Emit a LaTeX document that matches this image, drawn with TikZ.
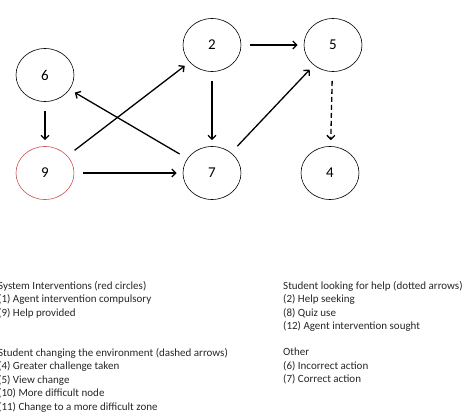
\documentclass[tikz,border=0pt]{standalone}
\usepackage{fontspec}
\setmainfont{Carlito}
\usepackage{tikz}
\usetikzlibrary{arrows.meta, shapes.geometric}
\definecolor{softred}{RGB}{205,80,80}

\begin{document}
\begin{tikzpicture}[x=1pt, y=1pt, node distance={120pt},
    main/.style = {draw, ellipse, minimum width=58pt, minimum height=53pt, line width=0.6pt, font=\fontsize{15}{18}\selectfont},
    link/.style = {-{Straight Barb[length=4pt,width=8pt]}, line width=1.3pt, shorten <=9pt, shorten >=6pt},
    legend/.style = {anchor=north west, align=left, inner sep=0pt, text=black!85, font=\fontsize{11}{13.5}\selectfont}]
    \useasboundingbox (0,0) rectangle (472,-420);

    \node[main, draw=softred] (N9) at (45,-173) {9};
    \node[main] (N6) [above of=N9, node distance=98pt] {6};
    \node[main] (N7) [right of=N9, node distance=167pt] {7};
    \node[main] (N2) [above of=N7, node distance=128pt] {2};
    \node[main] (N5) [right of=N2, node distance=121pt] {5};
    \node[main] (N4) [right of=N7, node distance=118pt] {4};

    \path[link] (N6) edge (N9);
    \path[link] (N9) edge (N7);
    \path[link] (N9) edge (N2);
    \path[link] (N7) edge (N6);
    \path[link] (N2) edge (N5);
    \path[link] (N2) edge (N7);
    \path[link] (N7) edge (N5);
    \path[link, dash pattern=on 5pt off 3pt] (N5) edge (N4);

    % legend
    \node[legend] (sysint) at (-2,-281) {System Interventions (red circles)\\(1) Agent intervention compulsory\\(9) Help provided};
    \node[legend] (envchange) at (-2,-348) {Student changing the environment (dashed arrows)\\(4) Greater challenge taken\\(5) View change\\(10) More difficult node\\(11) Change to a more difficult zone};
    \node[legend] (helpseek) at (283,-281) {Student looking for help (dotted arrows)\\(2) Help seeking\\(8) Quiz use\\(12) Agent intervention sought};
    \node[legend] (other) at (283,-348) {Other\\(6) Incorrect action\\(7) Correct action};
\end{tikzpicture}
\end{document}
